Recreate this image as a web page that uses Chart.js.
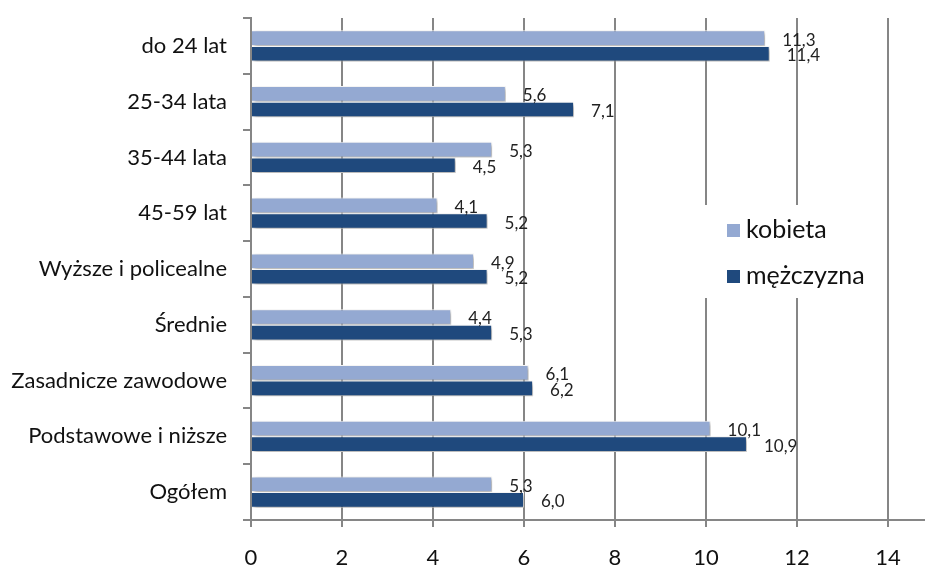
<!DOCTYPE html>
<html>
<head>
    <meta charset="UTF-8">
    <title>Stopa bezrobocia</title>
    <script src="https://cdn.jsdelivr.net/npm/chart.js"></script>
    <style>
        body {
            margin: 0;
            background-color: #ffffff;
        }
        #wrap {
            width: 925px;
            height: 568px;
        }
    </style>
</head>
<body>
    <div id="wrap"><canvas id="myChart" width="925" height="568"></canvas></div>

    <script>
        const kategorie = ['do 24 lat', '25-34 lata', '35-44 lata', '45-59 lat', 'Wyższe i policealne', 'Średnie', 'Zasadnicze zawodowe', 'Podstawowe i niższe', 'Ogółem'];
        const kobieta = [11.3, 5.6, 5.3, 4.1, 4.9, 4.4, 6.1, 10.1, 5.3];
        const mezczyzna = [11.4, 7.1, 4.5, 5.2, 5.2, 5.3, 6.2, 10.9, 6.0];
        const nazwySerii = ['kobieta', 'mężczyzna'];
        const kolory = ['#94a9d2', '#1f497d'];

        const FONT = 'Lato, "Open Sans", sans-serif';

        // cien pod slupkami
        const cienPlugin = {
            id: 'cien',
            beforeDatasetsDraw(chart) {
                const ctx = chart.ctx;
                ctx.save();
                ctx.shadowColor = 'rgba(0,0,0,0.35)';
                ctx.shadowBlur = 4;
                ctx.shadowOffsetX = 2;
                ctx.shadowOffsetY = 2;
            },
            afterDatasetsDraw(chart) {
                chart.ctx.restore();
            }
        };

        // etykiety wartosci
        const etykietyPlugin = {
            id: 'etykiety',
            afterDatasetsDraw(chart) {
                const ctx = chart.ctx;
                ctx.save();
                ctx.font = '17px ' + FONT;
                ctx.fillStyle = '#222';
                ctx.textAlign = 'left';
                ctx.textBaseline = 'middle';
                chart.data.datasets.forEach((ds, i) => {
                    chart.getDatasetMeta(i).data.forEach((bar, j) => {
                        const txt = ds.data[j].toFixed(1).replace('.', ',');
                        ctx.fillText(txt, bar.x + 17, bar.y + 2);
                    });
                });
                ctx.restore();
            }
        };

        // os pozioma przedluzona + legenda w obszarze wykresu
        const legendaPlugin = {
            id: 'legenda',
            afterDraw(chart) {
                const ctx = chart.ctx;
                const a = chart.chartArea;
                ctx.save();
                ctx.strokeStyle = '#868686';
                ctx.lineWidth = 2;
                ctx.beginPath();
                ctx.moveTo(a.left - 8, a.bottom);
                ctx.lineTo(chart.width, a.bottom);
                ctx.stroke();

                ctx.fillStyle = '#ffffff';
                ctx.fillRect(703, 205, 182, 93);
                ctx.font = '25px ' + FONT;
                ctx.textBaseline = 'middle';
                ctx.textAlign = 'left';
                const ys = [230, 276];
                nazwySerii.forEach((n, i) => {
                    ctx.fillStyle = kolory[i];
                    ctx.fillRect(727, ys[i] - 6, 13, 13);
                    ctx.fillStyle = '#111';
                    ctx.fillText(n, 746, ys[i]);
                });
                ctx.restore();
            }
        };

        const ctx = document.getElementById('myChart').getContext('2d');
        const chart = new Chart(ctx, {
            type: 'bar',
            data: {
                labels: kategorie,
                datasets: [{
                    label: nazwySerii[0],
                    data: kobieta,
                    backgroundColor: kolory[0],
                    borderColor: '#ffffff',
                    borderWidth: 1,
                    categoryPercentage: 0.56,
                    barPercentage: 1.0
                }, {
                    label: nazwySerii[1],
                    data: mezczyzna,
                    backgroundColor: kolory[1],
                    borderColor: '#ffffff',
                    borderWidth: 1,
                    categoryPercentage: 0.56,
                    barPercentage: 1.0
                }]
            },
            options: {
                indexAxis: 'y',
                responsive: false,
                animation: false,
                layout: {
                    padding: { top: 18, right: 37, left: 0, bottom: 0 }
                },
                plugins: {
                    legend: { display: false },
                    tooltip: { enabled: false }
                },
                scales: {
                    x: {
                        min: 0,
                        max: 14,
                        ticks: {
                            stepSize: 2,
                            color: '#111',
                            font: { family: FONT, size: 22 },
                            padding: 18
                        },
                        grid: {
                            color: '#868686',
                            lineWidth: 2,
                            tickLength: 7
                        },
                        border: { display: false },
                        afterFit(scale) { scale.height = 48; }
                    },
                    y: {
                        ticks: {
                            color: '#111',
                            font: { family: FONT, size: 22 },
                            padding: 16
                        },
                        grid: {
                            offset: true,
                            drawOnChartArea: false,
                            color: '#868686',
                            lineWidth: 2,
                            tickLength: 8
                        },
                        border: { display: true, color: '#868686', width: 2 },
                        afterFit(scale) {
                            scale.width = 251;
                            scale.paddingTop = 0;
                            scale.paddingBottom = 0;
                        }
                    }
                }
            },
            plugins: [cienPlugin, etykietyPlugin, legendaPlugin]
        });
    </script>
</body>
</html>
